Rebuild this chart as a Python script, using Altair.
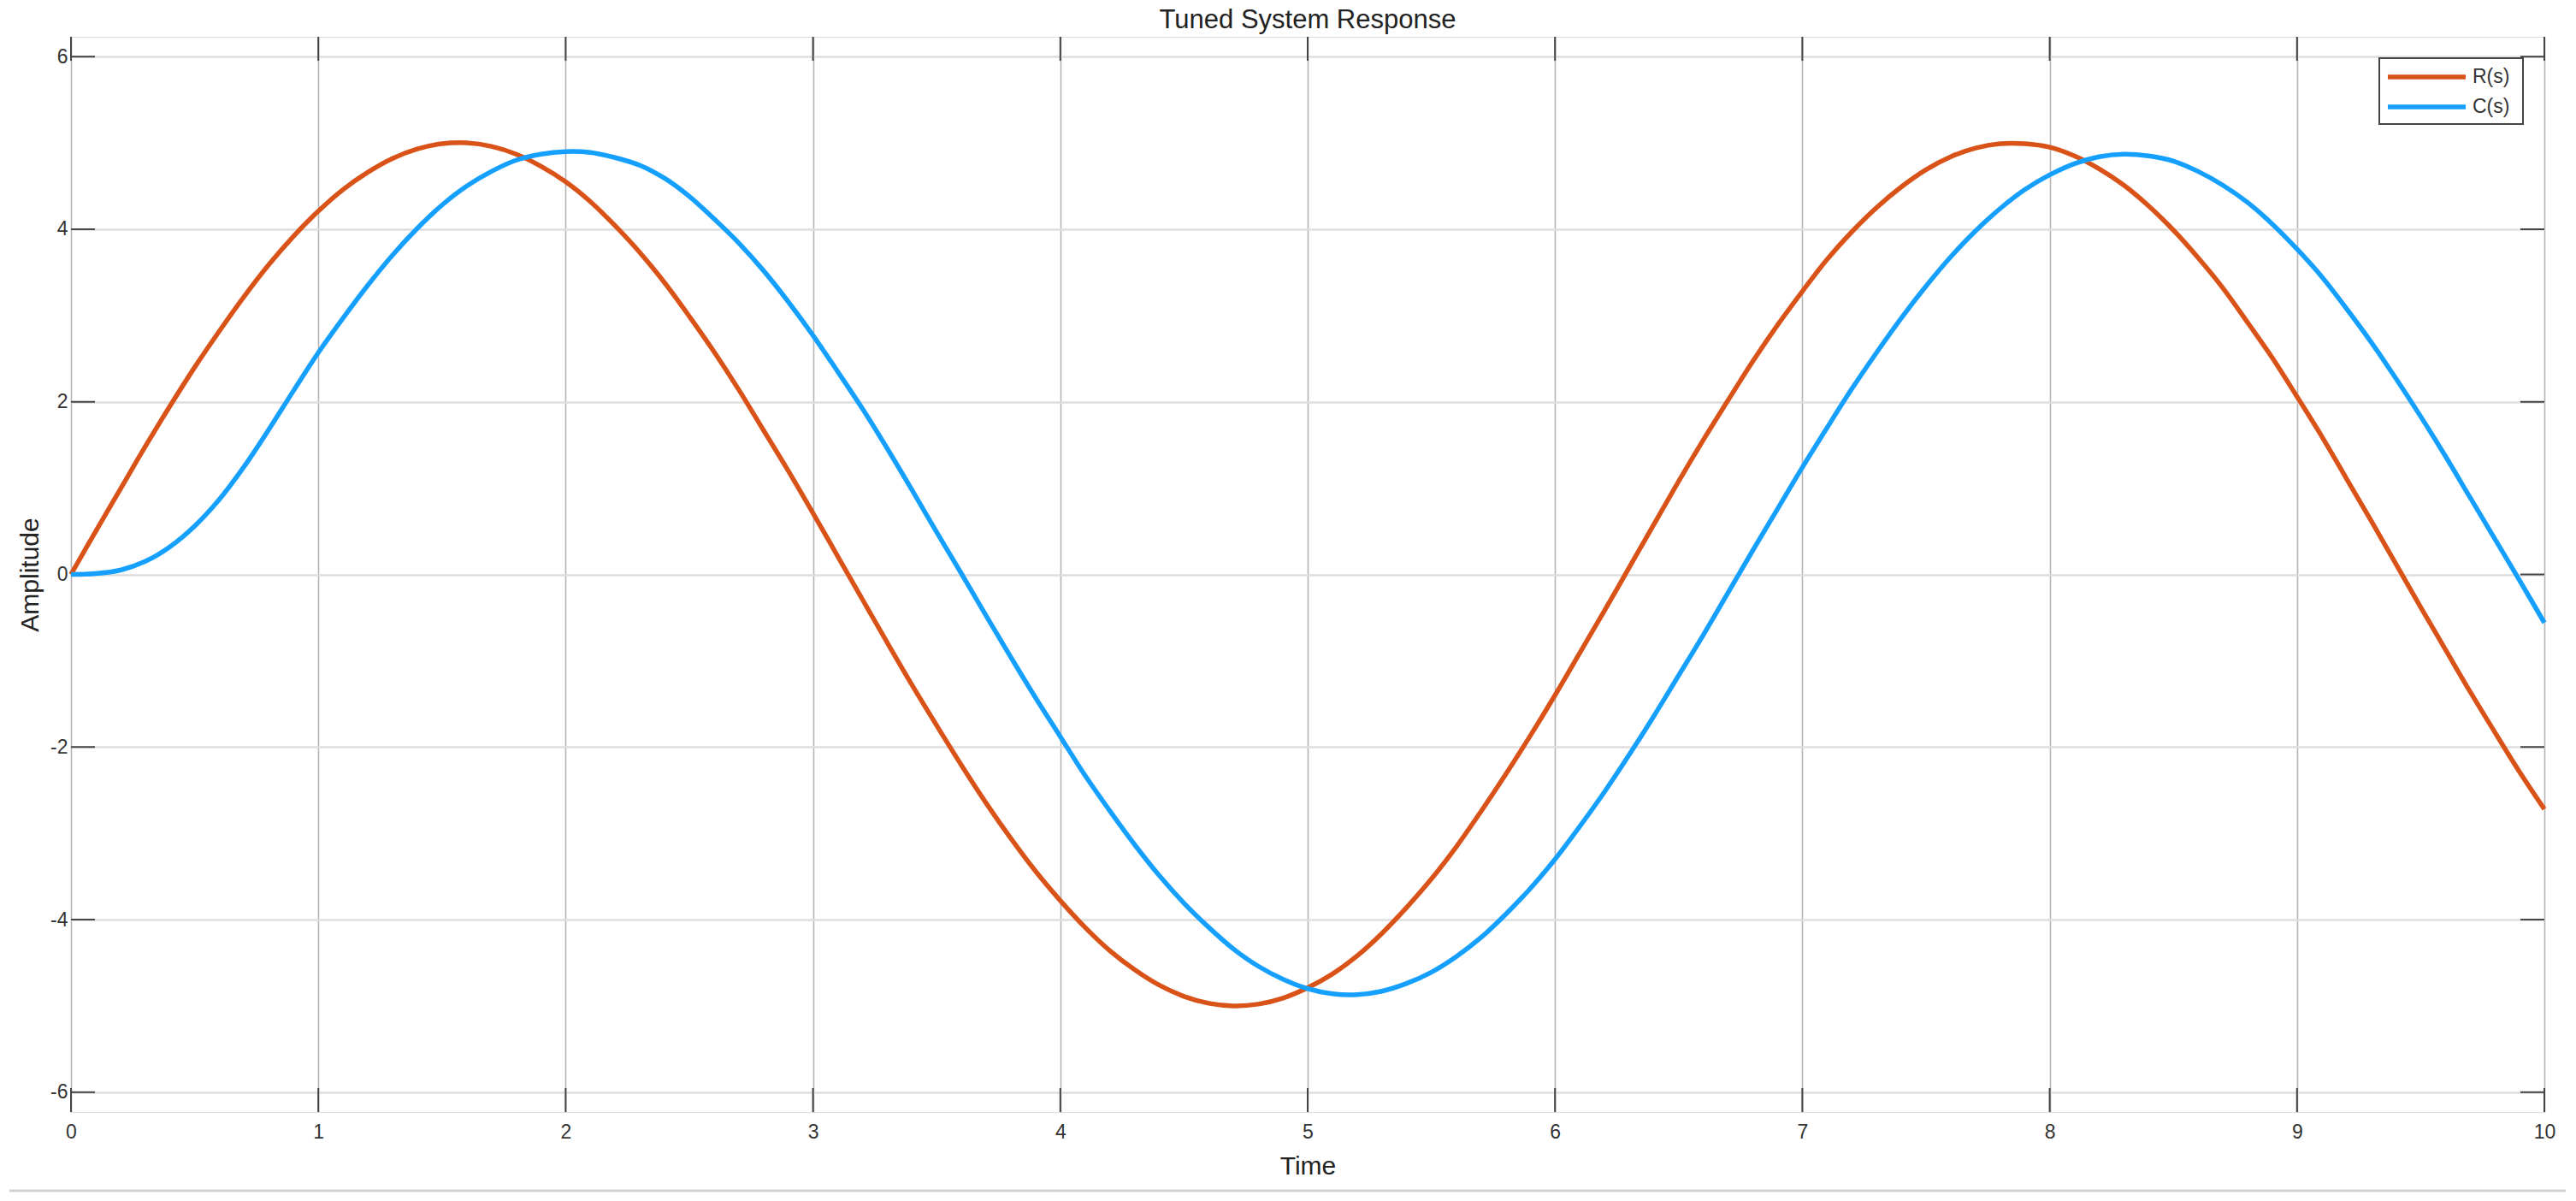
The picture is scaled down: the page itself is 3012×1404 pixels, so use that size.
import altair as alt
import pandas as pd

# ---- data ----
time = [0.0, 0.1, 0.2, 0.3, 0.4, 0.5, 0.6, 0.7, 0.8, 0.9,
        1.0, 1.1, 1.2, 1.3, 1.4, 1.5, 1.6, 1.7, 1.8, 1.9,
        2.0, 2.1, 2.2, 2.3, 2.4, 2.5, 2.6, 2.7, 2.8, 2.9,
        3.0, 3.1, 3.2, 3.3, 3.4, 3.5, 3.6, 3.7, 3.8, 3.9,
        4.0, 4.1, 4.2, 4.3, 4.4, 4.5, 4.6, 4.7, 4.8, 4.9,
        5.0, 5.1, 5.2, 5.3, 5.4, 5.5, 5.6, 5.7, 5.8, 5.9,
        6.0, 6.1, 6.2, 6.3, 6.4, 6.5, 6.6, 6.7, 6.8, 6.9,
        7.0, 7.1, 7.2, 7.3, 7.4, 7.5, 7.6, 7.7, 7.8, 7.9,
        8.0, 8.1, 8.2, 8.3, 8.4, 8.5, 8.6, 8.7, 8.8, 8.9,
        9.0, 9.1, 9.2, 9.3, 9.4, 9.5, 9.6, 9.7, 9.8, 9.9,
        10.0]

r_values = [0.00, 0.50, 0.99, 1.48, 1.95, 2.40, 2.82, 3.22, 3.59, 3.92,
            4.21, 4.46, 4.66, 4.82, 4.93, 4.99, 5.00, 4.96, 4.87, 4.73,
            4.55, 4.32, 4.04, 3.73, 3.38, 2.99, 2.58, 2.14, 1.67, 1.20,
            0.71, 0.21, -0.29, -0.79, -1.28, -1.75, -2.21, -2.65, -3.06, -3.44,
            -3.78, -4.09, -4.36, -4.58, -4.76, -4.89, -4.97, -5.00, -4.98, -4.91,
            -4.79, -4.63, -4.42, -4.16, -3.86, -3.53, -3.16, -2.75, -2.32, -1.87,
            -1.40, -0.91, -0.42, 0.08, 0.58, 1.08, 1.56, 2.02, 2.47, 2.89,
            3.28, 3.65, 3.97, 4.25, 4.49, 4.69, 4.84, 4.94, 4.99, 4.99,
            4.95, 4.85, 4.70, 4.51, 4.27, 3.99, 3.67, 3.32, 2.92, 2.51,
            2.06, 1.60, 1.11, 0.62, 0.12, -0.38, -0.87, -1.36, -1.83, -2.29,
            -2.72]

c_values = [0.00, 0.01, 0.05, 0.15, 0.32, 0.56, 0.87, 1.25, 1.68, 2.13,
            2.57, 2.97, 3.35, 3.70, 4.01, 4.28, 4.50, 4.67, 4.80, 4.87,
            4.90, 4.89, 4.83, 4.74, 4.59, 4.38, 4.12, 3.84, 3.52, 3.16,
            2.77, 2.35, 1.92, 1.46, 0.98, 0.49, 0.01, -0.48, -0.96, -1.43,
            -1.88, -2.33, -2.74, -3.13, -3.49, -3.81, -4.09, -4.34, -4.54, -4.69,
            -4.80, -4.86, -4.87, -4.83, -4.74, -4.61, -4.43, -4.21, -3.94, -3.64,
            -3.30, -2.92, -2.52, -2.09, -1.64, -1.17, -0.70, -0.21, 0.28, 0.76,
            1.24, 1.70, 2.15, 2.57, 2.97, 3.34, 3.68, 3.98, 4.24, 4.46,
            4.63, 4.76, 4.84, 4.87, 4.85, 4.79, 4.67, 4.51, 4.31, 4.06,
            3.77, 3.45, 3.08, 2.69, 2.27, 1.83, 1.37, 0.89, 0.41, -0.07,
            -0.56]

series_names = ["R(s)", "C(s)"]
series_colors = ["#D95319", "#15A0FF"]
x_ticks = [0, 1, 2, 3, 4, 5, 6, 7, 8, 9, 10]
y_ticks = [-6, -4, -2, 0, 2, 4, 6]
x_domain = [0, 10]
y_domain = [-6.23, 6.23]
chart_title = "Tuned System Response"

W, H = 2892, 1257
FONT = "Liberation Sans"
TICK_LEN = 28
BOX = "#444444"
LINE_W = 5.5

df_r = pd.DataFrame({"t": time, "v": r_values, "series": series_names[0]})
df_c = pd.DataFrame({"t": time, "v": c_values, "series": series_names[1]})
df_xt = pd.DataFrame({"t": x_ticks})
df_yt = pd.DataFrame({"v": y_ticks})
df_one = pd.DataFrame({"k": [0]})
df_leg = pd.DataFrame({"series": series_names})

x_axis = alt.Axis(values=x_ticks, grid=True, gridColor="#b4b4b4", gridWidth=1.6,
                  domain=False, ticks=False, tickSize=0, labelPadding=12,
                  labelFlush=False, labelFontSize=23, labelColor="#333333",
                  labelFont=FONT, title="Time", titleFont=FONT, titleFontSize=30,
                  titleFontWeight="normal", titleColor="#222222",
                  titleY=72, titleBaseline="alphabetic")
y_axis = alt.Axis(values=y_ticks, grid=True, gridColor="#dedede", gridWidth=2.6,
                  domain=False, ticks=False, tickSize=0, labelPadding=4,
                  labelFontSize=23, labelColor="#333333", labelFont=FONT,
                  labelExpr="'' + datum.value",
                  title="Amplitude", titleFont=FONT, titleFontSize=30,
                  titleFontWeight="normal", titleColor="#222222",
                  titleX=-39, titleBaseline="alphabetic")

def X():
    return alt.X("t:Q", scale=alt.Scale(domain=x_domain, nice=False, zero=False), axis=x_axis)

def Y():
    return alt.Y("v:Q", scale=alt.Scale(domain=y_domain, nice=False, zero=False), axis=y_axis)

color_scale = alt.Scale(domain=series_names, range=series_colors)
color = alt.Color("series:N", scale=color_scale, legend=None)

line_r = alt.Chart(df_r).mark_line(strokeWidth=LINE_W, strokeJoin="round",
                                   interpolate="catmull-rom").encode(x=X(), y=Y(), color=color)
line_c = alt.Chart(df_c).mark_line(strokeWidth=LINE_W, strokeJoin="round",
                                   interpolate="catmull-rom").encode(x=X(), y=Y(), color=color)

tick_b = alt.Chart(df_xt).mark_rule(color=BOX, strokeWidth=2).encode(
    x=X(), y=alt.value(H), y2=alt.value(H - TICK_LEN))
tick_t = alt.Chart(df_xt).mark_rule(color=BOX, strokeWidth=2).encode(
    x=X(), y=alt.value(0), y2=alt.value(TICK_LEN))
tick_l = alt.Chart(df_yt).mark_rule(color=BOX, strokeWidth=2).encode(
    y=Y(), x=alt.value(0), x2=alt.value(TICK_LEN))
tick_r = alt.Chart(df_yt).mark_rule(color=BOX, strokeWidth=2).encode(
    y=Y(), x=alt.value(W), x2=alt.value(W - TICK_LEN))

sep = alt.Chart(df_one).mark_rule(color="#d0d0d0", strokeWidth=3).encode(
    x=alt.value(-72), x2=alt.value(2917), y=alt.value(1349))

title = alt.Chart(df_one).mark_text(text=chart_title, font=FONT, fontSize=31,
                                    color="#222222", align="center",
                                    baseline="alphabetic").encode(
    x=alt.value(W / 2), y=alt.value(-10))

# legend box (MATLAB style, upper right inside the axes)
leg_box = alt.Chart(df_one).mark_rect(fill="white", stroke=BOX, strokeWidth=2).encode(
    x=alt.value(2699), x2=alt.value(2867), y=alt.value(25), y2=alt.value(102))
leg_layers = [leg_box]
for i, name in enumerate(series_names):
    row_y = 47 + 35 * i
    sub = alt.Chart(df_leg).transform_filter(alt.datum.series == name)
    leg_layers.append(sub.mark_rule(strokeWidth=LINE_W).encode(
        x=alt.value(2709), x2=alt.value(2800), y=alt.value(row_y), color=color))
    leg_layers.append(sub.mark_text(font=FONT, fontSize=23, color="#333333",
                                    align="left", baseline="middle").encode(
        x=alt.value(2808), y=alt.value(row_y), text="series:N"))

chart = alt.layer(tick_b, tick_t, tick_l, tick_r, line_r, line_c, *leg_layers, sep, title).properties(
    width=W, height=H,
    padding={"left": 75, "top": 35, "right": 29, "bottom": 96},
    autosize=alt.AutoSizeParams(type="none"),
).configure_view(stroke=BOX, strokeWidth=2).configure(background="white")

chart.save("out.html", embed_options={"renderer": "svg", "actions": False})
